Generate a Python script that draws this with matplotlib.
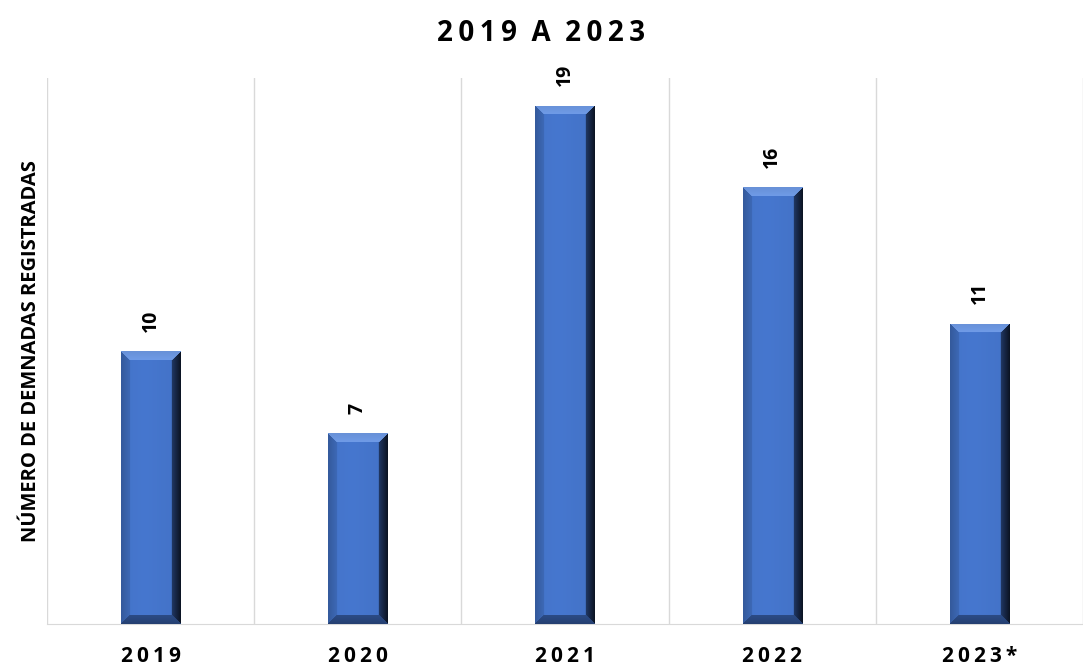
import numpy as np
import matplotlib.pyplot as plt

years = ['2019', '2020', '2021', '2022', '2023*']
demandas = [10, 7, 19, 16, 11]

title = '2019 A 2023'
ylabel = 'NÚMERO DE DEMNADAS REGISTRADAS'

plt.rcParams['font.family'] = ['Open Sans', 'DejaVu Sans']


def spaced(s, sep='\u2009'):
    # imitate the wide letter spacing of the original
    return sep.join(s)


def bevel_image(w, h, bev=9):
    # rgb image of a bevelled bar, w x h pixels
    face = np.array([70, 119, 207]) / 255
    top = np.array([112, 156, 232]) / 255
    left = np.array([62, 106, 184]) / 255
    right = np.array([34, 58, 104]) / 255
    bottom = np.array([44, 76, 135]) / 255
    img = np.zeros((h, w, 3))
    yy, xx = np.mgrid[0:h, 0:w]
    img[:] = face
    t = xx / max(w - 1, 1)
    shade = 1 - 0.07 * np.abs(t - 0.4)
    img *= shade[..., None]
    dl = xx
    dr = w - 1 - xx
    dt = yy
    db = h - 1 - yy
    m = np.minimum(np.minimum(dl, dr), np.minimum(dt, db))
    edge = m < bev
    which = np.argmin(np.stack([dt, db, dl, dr]), axis=0)
    dist = np.stack([dt, db, dl, dr])
    cols = [top, bottom, left, right]
    for k, c in enumerate(cols):
        sel = edge & (which == k)
        f = (dist[k][sel] / bev)[:, None]
        if k == 3:
            # right edge goes from dark blue to almost black at the rim
            img[sel] = c * (0.35 + 0.65 * f)
        elif k == 0:
            img[sel] = c * (0.93 + 0.07 * f)
        else:
            img[sel] = c * (0.85 + 0.15 * f)
    return img


fig = plt.figure(figsize=(10.83, 6.67), dpi=100)
ax = fig.add_axes([0.0434, 0.0645, 0.9566, 0.818])
x = np.arange(len(years))
bw = 0.285
bars = ax.bar(x, demandas, width=bw, color='#4472C4', zorder=2)
ax.set_xlim(-0.5, len(years) - 0.5)
ax.set_ylim(0, 20)

px_per_x = 1036 / len(years)
px_per_y = 546 / 20
for b, v in zip(bars, demandas):
    w = int(round(b.get_width() * px_per_x))
    h = int(round(v * px_per_y))
    img = bevel_image(w, h)
    im = ax.imshow(img, extent=(b.get_x(), b.get_x() + b.get_width(), 0, v),
                   aspect='auto', zorder=3, interpolation='bilinear')
    im.set_clip_path(b)
    ax.annotate(str(v), (b.get_x() + b.get_width() / 2, v), xytext=(0, 14),
                textcoords='offset points', rotation=90, ha='center', va='bottom',
                fontsize=14, fontweight='bold', color='black')

for xv in np.arange(-0.5, len(years), 1):
    ax.axvline(xv, color='#D9D9D9', lw=1, zorder=1)

for s in ['top', 'right', 'left']:
    ax.spines[s].set_visible(False)
ax.spines['bottom'].set_color('#D9D9D9')
ax.set_yticks([])
ax.set_xticks(x)
ax.set_xticklabels([spaced(y, '\u2009') for y in years], fontsize=15, fontweight='bold')
ax.tick_params(axis='x', length=0, pad=16)
ax.set_ylabel(ylabel, fontsize=14.5, fontweight='bold')
ax.yaxis.set_label_coords(-0.006, 0.5)
fig.suptitle('  '.join(spaced(wd, '\u2009') for wd in title.split(' ')),
             fontsize=20, fontweight='bold', y=0.972)

fig.savefig('out.png', dpi=100)
